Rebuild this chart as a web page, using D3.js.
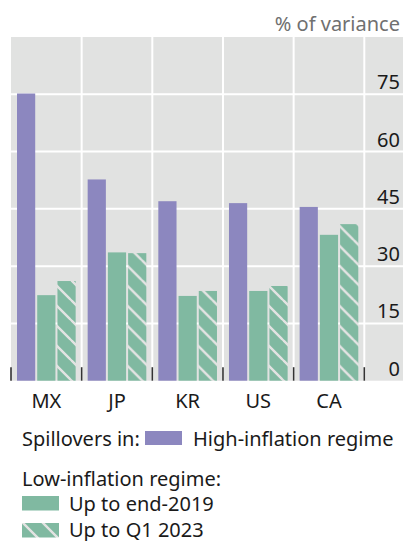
<!DOCTYPE html>
<html><head><meta charset="utf-8">
<script src="https://cdn.jsdelivr.net/npm/d3@7"></script>
<style>
html,body{margin:0;padding:0;background:#fff;}
text{font-family:"Noto Sans","Open Sans",sans-serif;}
</style></head>
<body>
<svg id="c" width="403" height="541"></svg>
<script>
const categories = ["MX","JP","KR","US","CA"];
const seriesNames = ["High-inflation regime","Up to end-2019","Up to Q1 2023"];
const highInflation = [75.2, 52.7, 47.0, 46.5, 45.5];
const lowTo2019 = [22.4, 33.6, 22.2, 23.5, 38.2];
const lowToQ12023 = [26.1, 33.4, 23.5, 24.8, 41.0];
const yTicks = [0, 15, 30, 45, 60, 75];

const purple = "#8c87bf", green = "#80b9a1", bg = "#e1e2e1";
const svg = d3.select("#c");
const W = 403;
const plot = {left: 11, right: 364.3, top: 37, bottom: 380.7};

const defs = svg.append("defs");
const pat = defs.append("pattern").attr("id","hatch").attr("patternUnits","userSpaceOnUse")
  .attr("width",20).attr("height",20);
pat.append("rect").attr("width",20).attr("height",20).attr("fill",green);
pat.selectAll("line").data([[-10,-10,10,10],[0,0,20,20],[10,10,30,30],[-10,10,10,30],[10,-10,30,10]]).enter()
  .append("line").attr("x1",d=>d[0]).attr("y1",d=>d[1]).attr("x2",d=>d[2]).attr("y2",d=>d[3])
  .attr("stroke","#e2e3e2").attr("stroke-width",2.2);

const x = d3.scaleBand().domain(categories).range([plot.left, plot.right]).padding(0);
const xs = d3.scaleBand().domain(seriesNames).range([6, x.bandwidth()-6]).paddingInner(0.1);
const y = d3.scaleLinear().domain([0,90]).range([plot.bottom, plot.top]);

// panel
svg.append("rect").attr("x",plot.left).attr("y",plot.top).attr("width",W-plot.left).attr("height",plot.bottom-plot.top).attr("fill",bg);
// grid
svg.selectAll(".hg").data(yTicks.filter(d=>d>0)).enter().append("line")
  .attr("x1",plot.left).attr("x2",W).attr("y1",d=>y(d)).attr("y2",d=>y(d))
  .attr("stroke","#fff").attr("stroke-width",2);
const bounds = categories.map(c=>x(c)).concat([plot.right]);
svg.selectAll(".vg").data(bounds.slice(1)).enter().append("line")
  .attr("x1",d=>d).attr("x2",d=>d).attr("y1",plot.top).attr("y2",plot.bottom)
  .attr("stroke","#fff").attr("stroke-width",2);

// bars
const data = categories.map((c,i)=>({c, vals:[highInflation[i], lowTo2019[i], lowToQ12023[i]]}));
const fills = [purple, green, "url(#hatch)"];
const g = svg.selectAll(".grp").data(data).enter().append("g").attr("transform",d=>`translate(${x(d.c)},0)`);
g.selectAll("rect").data(d=>d.vals.map((v,j)=>({v,j}))).enter().append("rect")
  .attr("x",d=>xs(seriesNames[d.j])).attr("width",xs.bandwidth())
  .attr("y",d=>y(d.v)).attr("height",d=>y(0)-y(d.v)).attr("fill",d=>fills[d.j]);

// tick marks at category boundaries
svg.selectAll(".tk").data(bounds).enter().append("line")
  .attr("x1",d=>d).attr("x2",d=>d).attr("y1",plot.bottom-13.5).attr("y2",plot.bottom)
  .attr("stroke","#333").attr("stroke-width",1.6);

// y labels
svg.selectAll(".yl").data(yTicks).enter().append("text")
  .attr("x",400).attr("y",d=>y(d)-5).attr("text-anchor","end")
  .attr("font-size",20).attr("fill","#1a1a1a").text(d=>d);
// x labels
svg.selectAll(".xl").data(categories).enter().append("text")
  .attr("x",d=>x(d)+x.bandwidth()/2).attr("y",407.5).attr("text-anchor","middle")
  .attr("font-size",20).attr("fill","#1a1a1a").text(d=>d);
// unit
svg.append("text").attr("x",400).attr("y",31).attr("text-anchor","end")
  .attr("font-size",20).attr("fill","#707070").text("% of variance");

// legend
const lg = svg.append("g");
lg.append("text").attr("x",22).attr("y",445.5).attr("font-size",20).attr("fill","#1a1a1a").text("Spillovers in:");
lg.append("rect").attr("x",145).attr("y",431).attr("width",37).attr("height",14).attr("fill",purple);
lg.append("text").attr("x",193).attr("y",445.5).attr("font-size",20).attr("fill","#1a1a1a").text(seriesNames[0]);
lg.append("text").attr("x",22).attr("y",486).attr("font-size",20).attr("fill","#1a1a1a").text("Low-inflation regime:");
lg.append("rect").attr("x",22).attr("y",496).attr("width",37).attr("height",14.5).attr("fill",green);
lg.append("text").attr("x",69).attr("y",510.5).attr("font-size",20).attr("fill","#1a1a1a").text(seriesNames[1]);
lg.append("rect").attr("x",22).attr("y",523).attr("width",37).attr("height",14.5).attr("fill","url(#hatch)");
lg.append("text").attr("x",69).attr("y",537).attr("font-size",20).attr("fill","#1a1a1a").text(seriesNames[2]);
</script>
</body></html>
